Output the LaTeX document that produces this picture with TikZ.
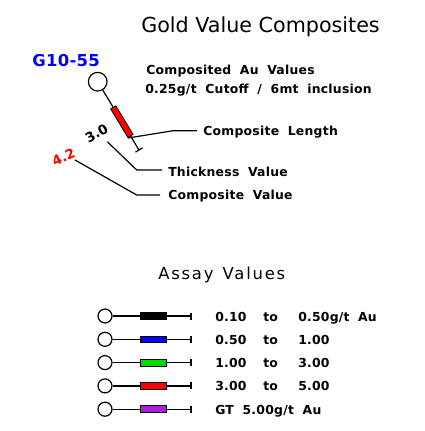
\documentclass[tikz,border=0pt]{standalone}
\usepackage{fontspec}
\setmainfont{DejaVu Sans}
\newfontfamily\cadfont[WordSpace=1.9, LetterSpace=2]{DejaVu Sans}
\newfontfamily\cadwide[WordSpace=1.3, LetterSpace=11]{DejaVu Sans}
\usetikzlibrary{calc}
\definecolor{hiblue}{RGB}{0,0,255}
\definecolor{hired}{RGB}{255,0,0}
\definecolor{higreen}{RGB}{0,220,0}
\definecolor{hipurple}{RGB}{170,30,220}
\begin{document}
\begin{tikzpicture}[x=0.75pt,y=-0.75pt,
  lbl/.style={font=\cadfont\bfseries\fontsize{9.3}{11}\selectfont, inner sep=0pt, anchor=base west},
  head/.style={font=\fontsize{15.5}{18}\selectfont, inner sep=0pt, anchor=base west},
  tilted/.style={inner sep=0pt, font=\bfseries\fontsize{10}{12}\selectfont},
  ink/.style={line width=0.9pt},
  collar/.style={draw, circle, line width=0.9pt, minimum size=14, inner sep=0pt},
  smallcollar/.style={draw, circle, line width=0.9pt, minimum size=10.5, inner sep=0pt},
  bar/.style={draw, line width=0.6pt, minimum width=20, minimum height=5, inner sep=0pt}]
\useasboundingbox[fill=white] (0,0) rectangle (424,431);

% heading and hole name
\node[head] (title) at (141,33) {Gold Value Composites};
\node[inner sep=0pt, anchor=base west, text=hiblue,
  font=\cadfont\bfseries\fontsize{12.3}{14}\selectfont] (hole) at (32,67) {G10-55};
\node[lbl] (sub1) at (146,75) {Composited Au Values};
\node[lbl] (sub2) at (145,94) {0.25g/t Cutoff / 6mt inclusion};

% example drill trace
\node[collar] (col) at (97.7,81.7) {};
\coordinate (eoh) at (139,150);
\draw[ink] (col) -- (eoh);
\path (col.center) -- (eoh) node[pos=0.585, sloped, draw, fill=hired, line width=0.6pt,
  minimum width=25, minimum height=4.5, inner sep=0pt] (comp) {};
\draw[ink] ($(eoh)+(-3.6,2.2)$) -- ($(eoh)+(3.6,-2.2)$);

% value labels along the trace
\node[tilted, rotate=29] (thick) at (96.5,133.5) {3.0};
\node[tilted, rotate=25, text=hired] (cval) at (63.5,157) {4.2};

% leader lines and their captions
\node[lbl] (lenlbl) at (203,136) {Composite Length};
\node[lbl] (thklbl) at (168,176.7) {Thickness Value};
\node[lbl] (vallbl) at (168,199) {Composite Value};
\coordinate (s2) at (107.3,141.7);
\coordinate (s3) at (75,160);
\coordinate (b1) at (173.3,130.7);
\coordinate (e1) at (197,130.7);
\coordinate (b2) at (136.7,170);
\coordinate (e2) at (162,170);
\coordinate (b3) at (136.7,195);
\coordinate (e3) at (160,195);
\draw[ink] (comp.south east) -- (b1) -- (e1);
\draw[ink] (s2) -- (b2) -- (e2);
\draw[ink] (s3) -- (b3) -- (e3);

% legend
\node[inner sep=0pt, anchor=base west, font=\cadwide\fontsize{12.3}{14}\selectfont] (assay) at (158,279) {Assay Values};
\foreach \i/\c/\a/\b/\d in {0/black/0.10/to/0.50g\slash t Au,
                            1/hiblue/0.50/to/1.00,
                            2/higreen/1.00/to/3.00,
                            3/hired/3.00/to/5.00} {
  \node[smallcollar] (lc\i) at (105,316+23.3*\i) {};
  \coordinate (le\i) at (191,316+23.3*\i);
  \draw[ink] (lc\i) -- (le\i);
  \draw[ink] ($(le\i)+(0,-3.5)$) -- ($(le\i)+(0,3.5)$);
  \node[bar, fill=\c] (lb\i) at (153.3,316+23.3*\i) {};
  \node[lbl] (lf\i) at (215,321+23.3*\i) {\a};
  \node[lbl] (lt\i) at (263,321+23.3*\i) {\b};
  \node[lbl] (lu\i) at (298,321+23.3*\i) {\d};
}
\node[smallcollar] (lc4) at (105,409.2) {};
\coordinate (le4) at (191,409.2);
\draw[ink] (lc4) -- (le4);
\draw[ink] ($(le4)+(0,-3.5)$) -- ($(le4)+(0,3.5)$);
\node[bar, fill=hipurple] (lb4) at (153.3,409.2) {};
\node[lbl] (lf4) at (215,414.2) {GT 5.00g/t Au};
\end{tikzpicture}
\end{document}
